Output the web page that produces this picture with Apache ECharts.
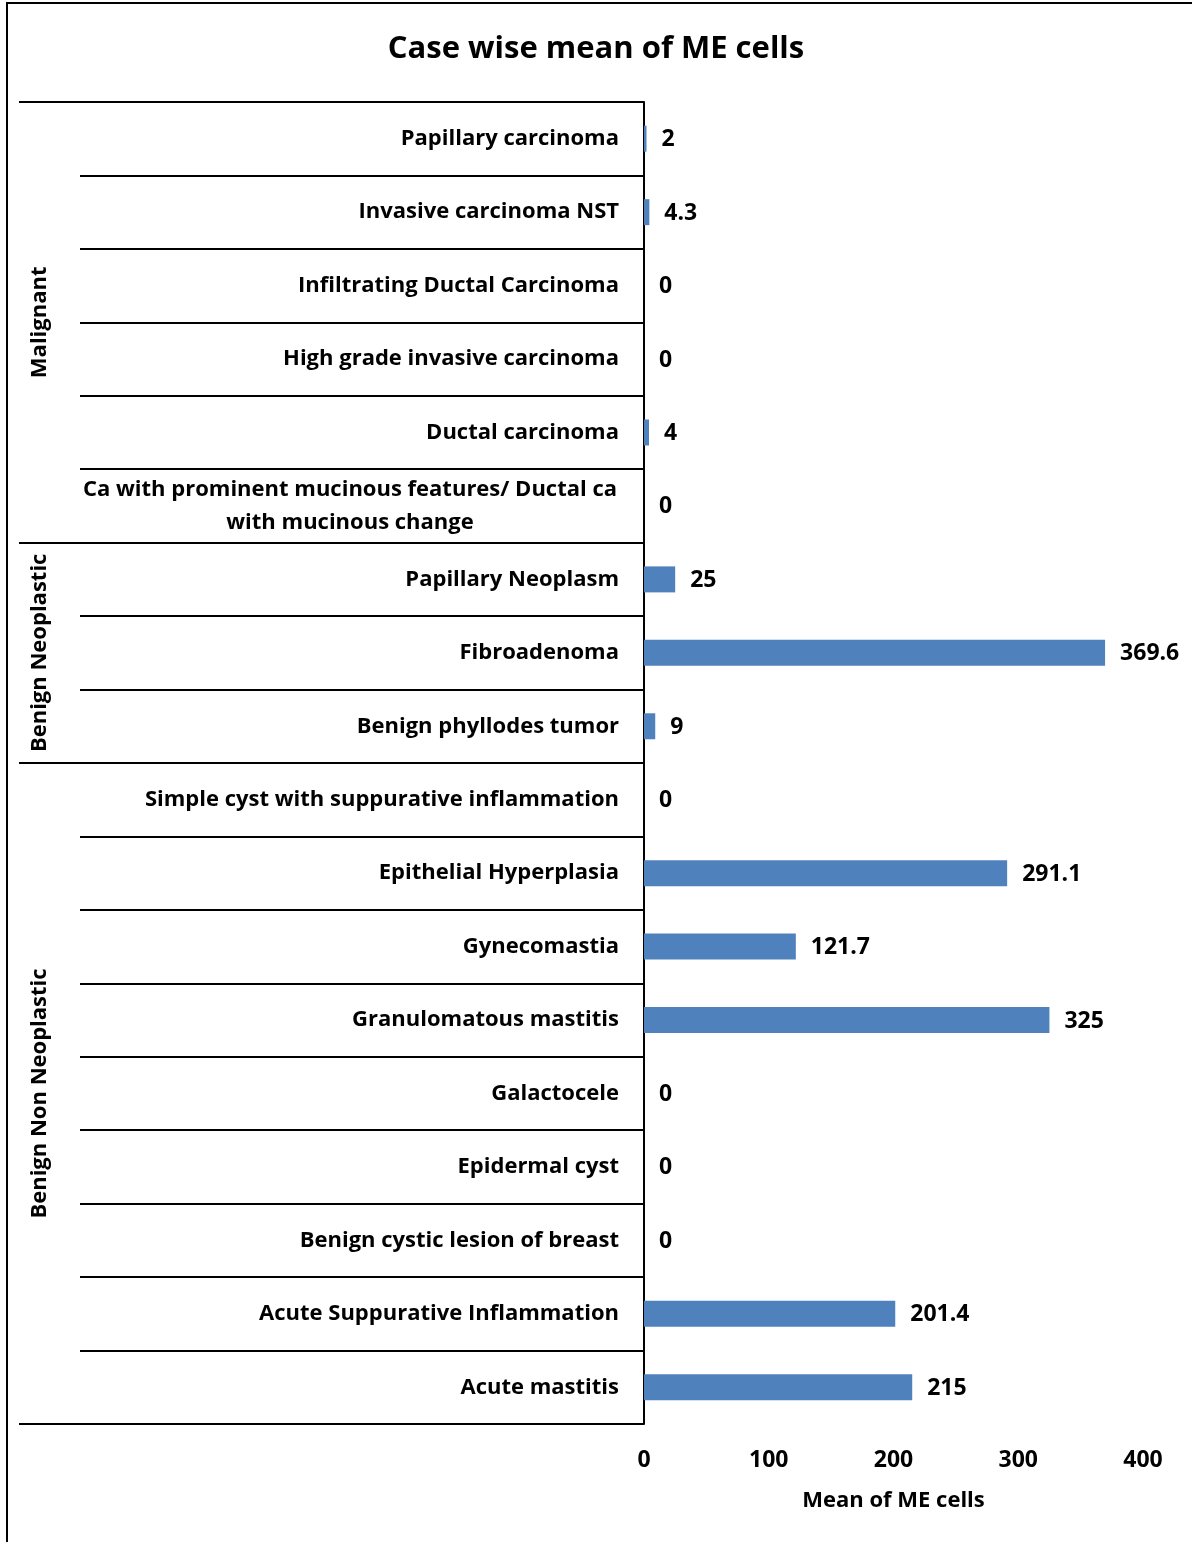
<!DOCTYPE html>
<html>
<head>
<meta charset="utf-8">
<style>
  html, body { margin: 0; padding: 0; background: #fff; }
  #chart { width: 1192px; height: 1542px; }
</style>
<script src="https://cdn.jsdelivr.net/npm/echarts@6/dist/echarts.min.js"></script>
</head>
<body>
<div id="chart"></div>
<script>
// Diagnoses, listed top to bottom
const categories = [
  'Papillary carcinoma',
  'Invasive carcinoma NST',
  'Infiltrating Ductal Carcinoma',
  'High grade invasive carcinoma',
  'Ductal carcinoma',
  'Ca with prominent mucinous features/ Ductal ca\nwith mucinous change',
  'Papillary Neoplasm',
  'Fibroadenoma',
  'Benign phyllodes tumor',
  'Simple cyst with suppurative inflammation',
  'Epithelial Hyperplasia',
  'Gynecomastia',
  'Granulomatous mastitis',
  'Galactocele',
  'Epidermal cyst',
  'Benign cystic lesion of breast',
  'Acute Suppurative Inflammation',
  'Acute mastitis'
];

// Mean myoepithelial cell count per diagnosis
const meanME = [2, 4.3, 0, 0, 4, 0, 25, 369.6, 9, 0, 291.1, 121.7, 325, 0, 0, 0, 201.4, 215];

// Diagnostic groups: name, first category index, count
const groupNames = ['Malignant', 'Benign Neoplastic', 'Benign Non Neoplastic'];
const groupStart = [0, 6, 9];
const groupSize = [6, 3, 9];

const xTicks = [0, 100, 200, 300, 400];

const FONT = '"Open Sans", "Noto Sans", sans-serif';
const chart = echarts.init(document.getElementById('chart'), null, { renderer: 'canvas' });

const GRID = { left: 644, top: 102, right: 49, bottom: 118 };

chart.setOption({
  backgroundColor: '#ffffff',
  animation: false,
  title: {
    text: 'Case wise mean of ME cells',
    left: 'center',
    top: 29,
    textStyle: { fontFamily: FONT, fontWeight: 'bold', fontSize: 31, color: '#000' }
  },
  grid: GRID,
  xAxis: {
    type: 'value',
    min: xTicks[0],
    max: xTicks[xTicks.length - 1],
    interval: 100,
    axisLine: { show: false },
    axisTick: { show: false },
    splitLine: { show: false },
    axisLabel: {
      margin: 25,
      fontFamily: FONT, fontWeight: 'bold', fontSize: 23, color: '#000'
    },
    name: 'Mean of ME cells',
    nameLocation: 'middle',
    nameGap: 66,
    nameTextStyle: { fontFamily: FONT, fontWeight: 'bold', fontSize: 22, color: '#000' }
  },
  yAxis: {
    type: 'category',
    inverse: true,
    data: categories,
    axisLine: { show: true, lineStyle: { color: '#000', width: 2 } },
    axisTick: { show: true, length: 564, lineStyle: { color: '#000', width: 2 } },
    axisLabel: {
      margin: 25,
      formatter: function (v) {
        const lines = v.split('\n');
        if (lines.length === 1) return '{c|' + v + '}';
        return lines.map(function (s) { return '{m|' + s + '}'; }).join('\n');
      },
      rich: {
        c: { fontFamily: FONT, fontWeight: 'bold', fontSize: 22, color: '#000', lineHeight: 33 },
        m: { fontFamily: FONT, fontWeight: 'bold', fontSize: 22, color: '#000', lineHeight: 33,
             width: 538, align: 'center' }
      }
    }
  },
  series: [{
    type: 'bar',
    data: meanME,
    barWidth: 26,
    itemStyle: { color: '#4F81BD' },
    label: {
      show: true,
      position: 'right',
      distance: 15,
      offset: [0, 1],
      fontFamily: FONT, fontWeight: 'bold', fontSize: 23, color: '#000'
    }
  }]
});

// Group separators and rotated group names, placed through the category scale
function drawGroups() {
  const band = (chart.getHeight() - GRID.top - GRID.bottom) / categories.length;
  const yAt = function (idx) { return GRID.top + idx * band; };
  const els = [];
  const bounds = [0];
  for (let g = 0; g < groupNames.length; g++) bounds.push(groupStart[g] + groupSize[g]);
  bounds.forEach(function (b) {
    const y = Math.round(yAt(b));
    els.push({
      type: 'line',
      shape: { x1: 19, y1: y, x2: GRID.left, y2: y },
      style: { stroke: '#000', lineWidth: 2 }
    });
  });
  groupNames.forEach(function (name, g) {
    const yc = (yAt(groupStart[g]) + yAt(groupStart[g] + groupSize[g])) / 2;
    els.push({
      type: 'text',
      x: 40, y: yc,
      rotation: Math.PI / 2,
      style: {
        text: name,
        fontFamily: FONT, fontWeight: 'bold', fontSize: 22, fill: '#000',
        align: 'center', verticalAlign: 'middle'
      }
    });
  });
  // outer frame
  els.push({
    type: 'rect',
    shape: { x: 7, y: 3, width: 1300, height: 1700 },
    style: { fill: null, stroke: '#000', lineWidth: 2 },
    z: 10
  });
  chart.setOption({ graphic: els });
}
drawGroups();
</script>
</body>
</html>
